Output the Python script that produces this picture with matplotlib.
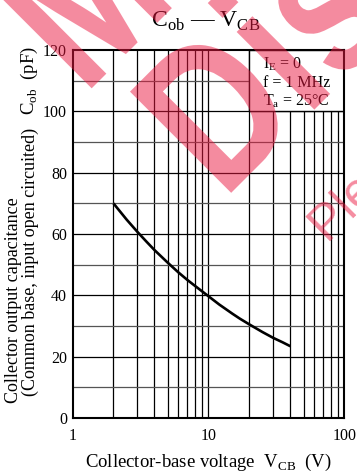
import numpy as np
import matplotlib.pyplot as plt
from matplotlib.patches import Rectangle, PathPatch
from matplotlib.textpath import TextPath
from matplotlib.font_manager import FontProperties
from matplotlib.transforms import Affine2D

plt.rcParams['font.family'] = 'Liberation Serif'
plt.rcParams['mathtext.fontset'] = 'custom'
plt.rcParams['mathtext.rm'] = 'Liberation Serif'

# donnees
vcb = [2, 2.5, 3, 3.5, 4, 5, 6, 7, 8, 10, 12, 15, 17, 20, 25, 30, 35, 40]
cob = [70, 64.7, 60.7, 57.5, 54.8, 50.7, 47.5, 45.0, 43.0, 39.7, 37.0, 34.0,
       32.4, 30.5, 28.0, 26.1, 24.7, 23.4]

x_ticks = [1, 10, 100]
x_labels = ['1', '10', '100']
y_ticks = [0, 20, 40, 60, 80, 100, 120]

W, H = 357, 473
fig = plt.figure(figsize=(W / 100, H / 100), dpi=100)
ax = fig.add_axes([72.5 / W, 1 - 418 / H, 272 / W, 368 / H])

def fx(x):
    return x / W

def fy(y):
    return 1 - y / H

ax.set_xscale('log')
ax.set_xlim(1, 100)
ax.set_ylim(0, 120)

# grille
for v in list(range(2, 10)) + list(range(20, 100, 10)) + [10]:
    ax.axvline(v, color='black', lw=0.9, zorder=0.5)
for c in range(10, 120, 10):
    col = 'black' if c % 20 == 0 else '#555555'
    ax.axhline(c, color=col, lw=0.9, zorder=0.5)

# cadre des conditions
ax.add_patch(Rectangle((20, 100), 80, 20, facecolor='white', edgecolor='black',
                       lw=1.0, zorder=1.5))

ax.plot(vcb, cob, color='black', lw=1.9, zorder=3, solid_capstyle='butt')

ax.set_xticks(x_ticks)
ax.set_xticklabels(x_labels)
ax.set_xticks([], minor=True)
ax.set_yticks(y_ticks)
ax.tick_params(length=0, labelsize=11.5)
ax.tick_params(axis='x', pad=7)
ax.tick_params(axis='y', pad=4)
for s in ax.spines.values():
    s.set_linewidth(1.5)

ax.text(0.70, 0.951, r'I$_\mathregular{E}$ = 0', transform=ax.transAxes, fontsize=11.5, zorder=4)
ax.text(0.70, 0.899, 'f = 1 MHz', transform=ax.transAxes, fontsize=11.5, zorder=4)
ax.text(0.70, 0.851, r'T$_\mathregular{a}$ = 25°C', transform=ax.transAxes, fontsize=11.5, zorder=4)

fig.text(fx(206), fy(27), r'C$_\mathregular{ob}$ — V$_\mathregular{CB}$', ha='center',
         va='baseline', fontsize=17)
fig.text(fx(208), fy(467), r'Collector-base voltage  V$_\mathregular{CB}$  (V)',
         ha='center', va='baseline', fontsize=13.5)
fig.text(fx(18), fy(300), 'Collector output capacitance', rotation=90,
         rotation_mode='anchor', ha='center', va='baseline', fontsize=13)
fig.text(fx(35), fy(262), '(Common base, input open circuited)', rotation=90,
         rotation_mode='anchor', ha='center', va='baseline', fontsize=13)
fig.text(fx(34), fy(80), r'C$_\mathregular{ob}$  (pF)', rotation=90,
         rotation_mode='anchor', ha='center', va='baseline', fontsize=13.5)

# filigrane (texte etroit, tourne de 45 degres)
fp = FontProperties(family='Liberation Sans', weight='bold')

def filigrane(txt, x, y, size, sx):
    tp = TextPath((0, 0), txt, size=size, prop=fp)
    tr = Affine2D().scale(sx, 1).rotate_deg(45).translate(x, H - y)
    fig.add_artist(PathPatch(tp, transform=tr, facecolor='#EB1941',
                             edgecolor='none', alpha=0.5, zorder=10))

filigrane('Maintenance/', 84, 96, 208, 0.78)
filigrane('Discontinued', 223.5, 200.5, 208, 0.78)
fig.text(fx(328), fy(244), 'Please visit following URL', color='#EB1941', alpha=0.5,
         rotation=45, rotation_mode='anchor', ha='left', va='baseline',
         family='Liberation Sans', fontsize=36, zorder=10)

fig.savefig('out.png', dpi=100)
